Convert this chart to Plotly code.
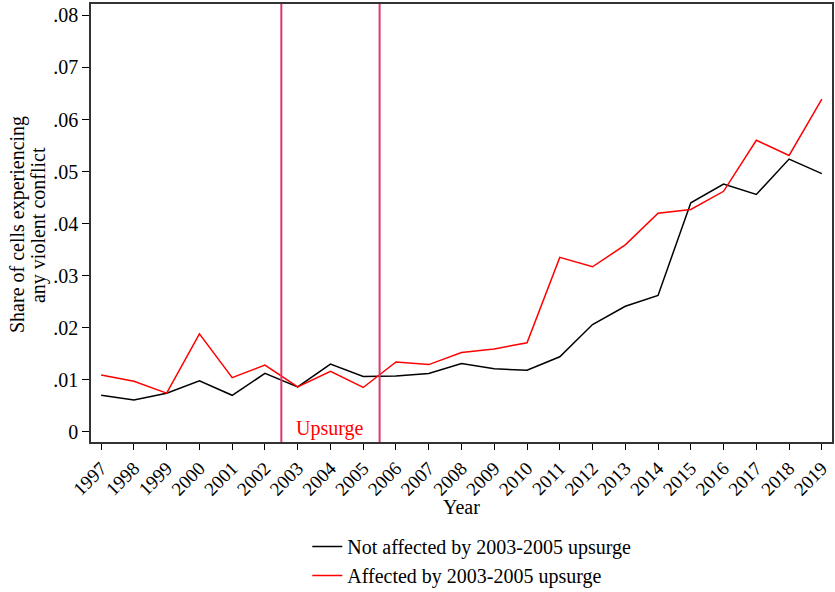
import plotly.graph_objects as go

years = list(range(1997, 2020))
not_affected = [0.0070, 0.0061, 0.0074, 0.0098, 0.0070, 0.0112, 0.0086, 0.0130, 0.0106, 0.0107,
                0.0112, 0.0131, 0.0121, 0.0118, 0.0144, 0.0206, 0.0241, 0.0262, 0.0440, 0.0476,
                0.0456, 0.0524, 0.0496]
affected = [0.0109, 0.0097, 0.0074, 0.0188, 0.0104, 0.0128, 0.0086, 0.0116, 0.0085, 0.0134,
            0.0129, 0.0152, 0.0159, 0.0171, 0.0335, 0.0317, 0.0359, 0.0420, 0.0427, 0.0462,
            0.0560, 0.0531, 0.0639]
ytick_vals = [0, 0.01, 0.02, 0.03, 0.04, 0.05, 0.06, 0.07, 0.08]
ytick_text = ["0", ".01", ".02", ".03", ".04", ".05", ".06", ".07", ".08"]
upsurge_bounds = [2002.5, 2005.5]
upsurge_label = "Upsurge"
ytitle_lines = ["Share of cells experiencing", "any violent conflict"]
xtitle = "Year"

FONT = "Liberation Serif"
FS = 20

fig = go.Figure()
fig.add_trace(go.Scatter(x=years, y=not_affected, mode="lines",
                         line=dict(color="black", width=1.5),
                         name="Not affected by 2003-2005 upsurge"))
fig.add_trace(go.Scatter(x=years, y=affected, mode="lines",
                         line=dict(color="#ff0000", width=1.5),
                         name="Affected by 2003-2005 upsurge"))

for xb in upsurge_bounds:
    fig.add_vline(x=xb, line=dict(color="#db3a68", width=2))

fig.add_annotation(x=sum(upsurge_bounds) / 2, y=-0.00198, yref="y", xref="x",
                   text=upsurge_label, showarrow=False, yanchor="bottom", yshift=0,
                   font=dict(family=FONT, size=FS, color="#ff0000"))

# axis titles as annotations (paper coords relative to plot area)
for i, line in enumerate(ytitle_lines):
    fig.add_annotation(xref="paper", yref="paper", x=(17 + 21 * i - 91) / 741, y=0.4954,
                       text=line, textangle=-90, showarrow=False,
                       xanchor="center", yanchor="middle",
                       font=dict(family=FONT, size=FS, color="black"))
fig.add_annotation(xref="paper", yref="paper", x=0.5, y=(442 - 507) / 438,
                   text=xtitle, showarrow=False, xanchor="center", yanchor="middle",
                   font=dict(family=FONT, size=FS, color="black"))

fig.update_layout(
    width=835, height=592,
    margin=dict(l=91, r=3, t=4, b=150, autoexpand=False),
    paper_bgcolor="white", plot_bgcolor="white",
    font=dict(family=FONT, size=FS, color="black"),
    showlegend=True,
    legend=dict(orientation="v", xref="container", yref="container",
                x=0.368, y=0.11, xanchor="left", yanchor="top",
                font=dict(family=FONT, size=FS), tracegroupgap=0,
                bgcolor="rgba(0,0,0,0)"),
    xaxis=dict(range=[1996.69, 2019.31], tickmode="array", tickvals=years,
               ticktext=[str(y) for y in years], tickangle=-45,
               ticks="outside", ticklen=6, tickwidth=1.2, tickcolor="black",
               showline=True, linecolor="#333333", linewidth=1.5, mirror=True,
               showgrid=False, zeroline=False,
               tickfont=dict(family=FONT, size=19)),
    yaxis=dict(range=[-0.00198, 0.0822], tickmode="array", tickvals=ytick_vals,
               ticktext=ytick_text, ticks="outside", ticklen=7, tickwidth=1.2,
               tickcolor="black",
               showline=True, linecolor="#333333", linewidth=1.5, mirror=True,
               showgrid=False, zeroline=False,
               tickfont=dict(family=FONT, size=FS)),
)

fig.write_html("out.html", config={"displayModeBar": False},
               post_script="document.body.style.margin='0px';")
